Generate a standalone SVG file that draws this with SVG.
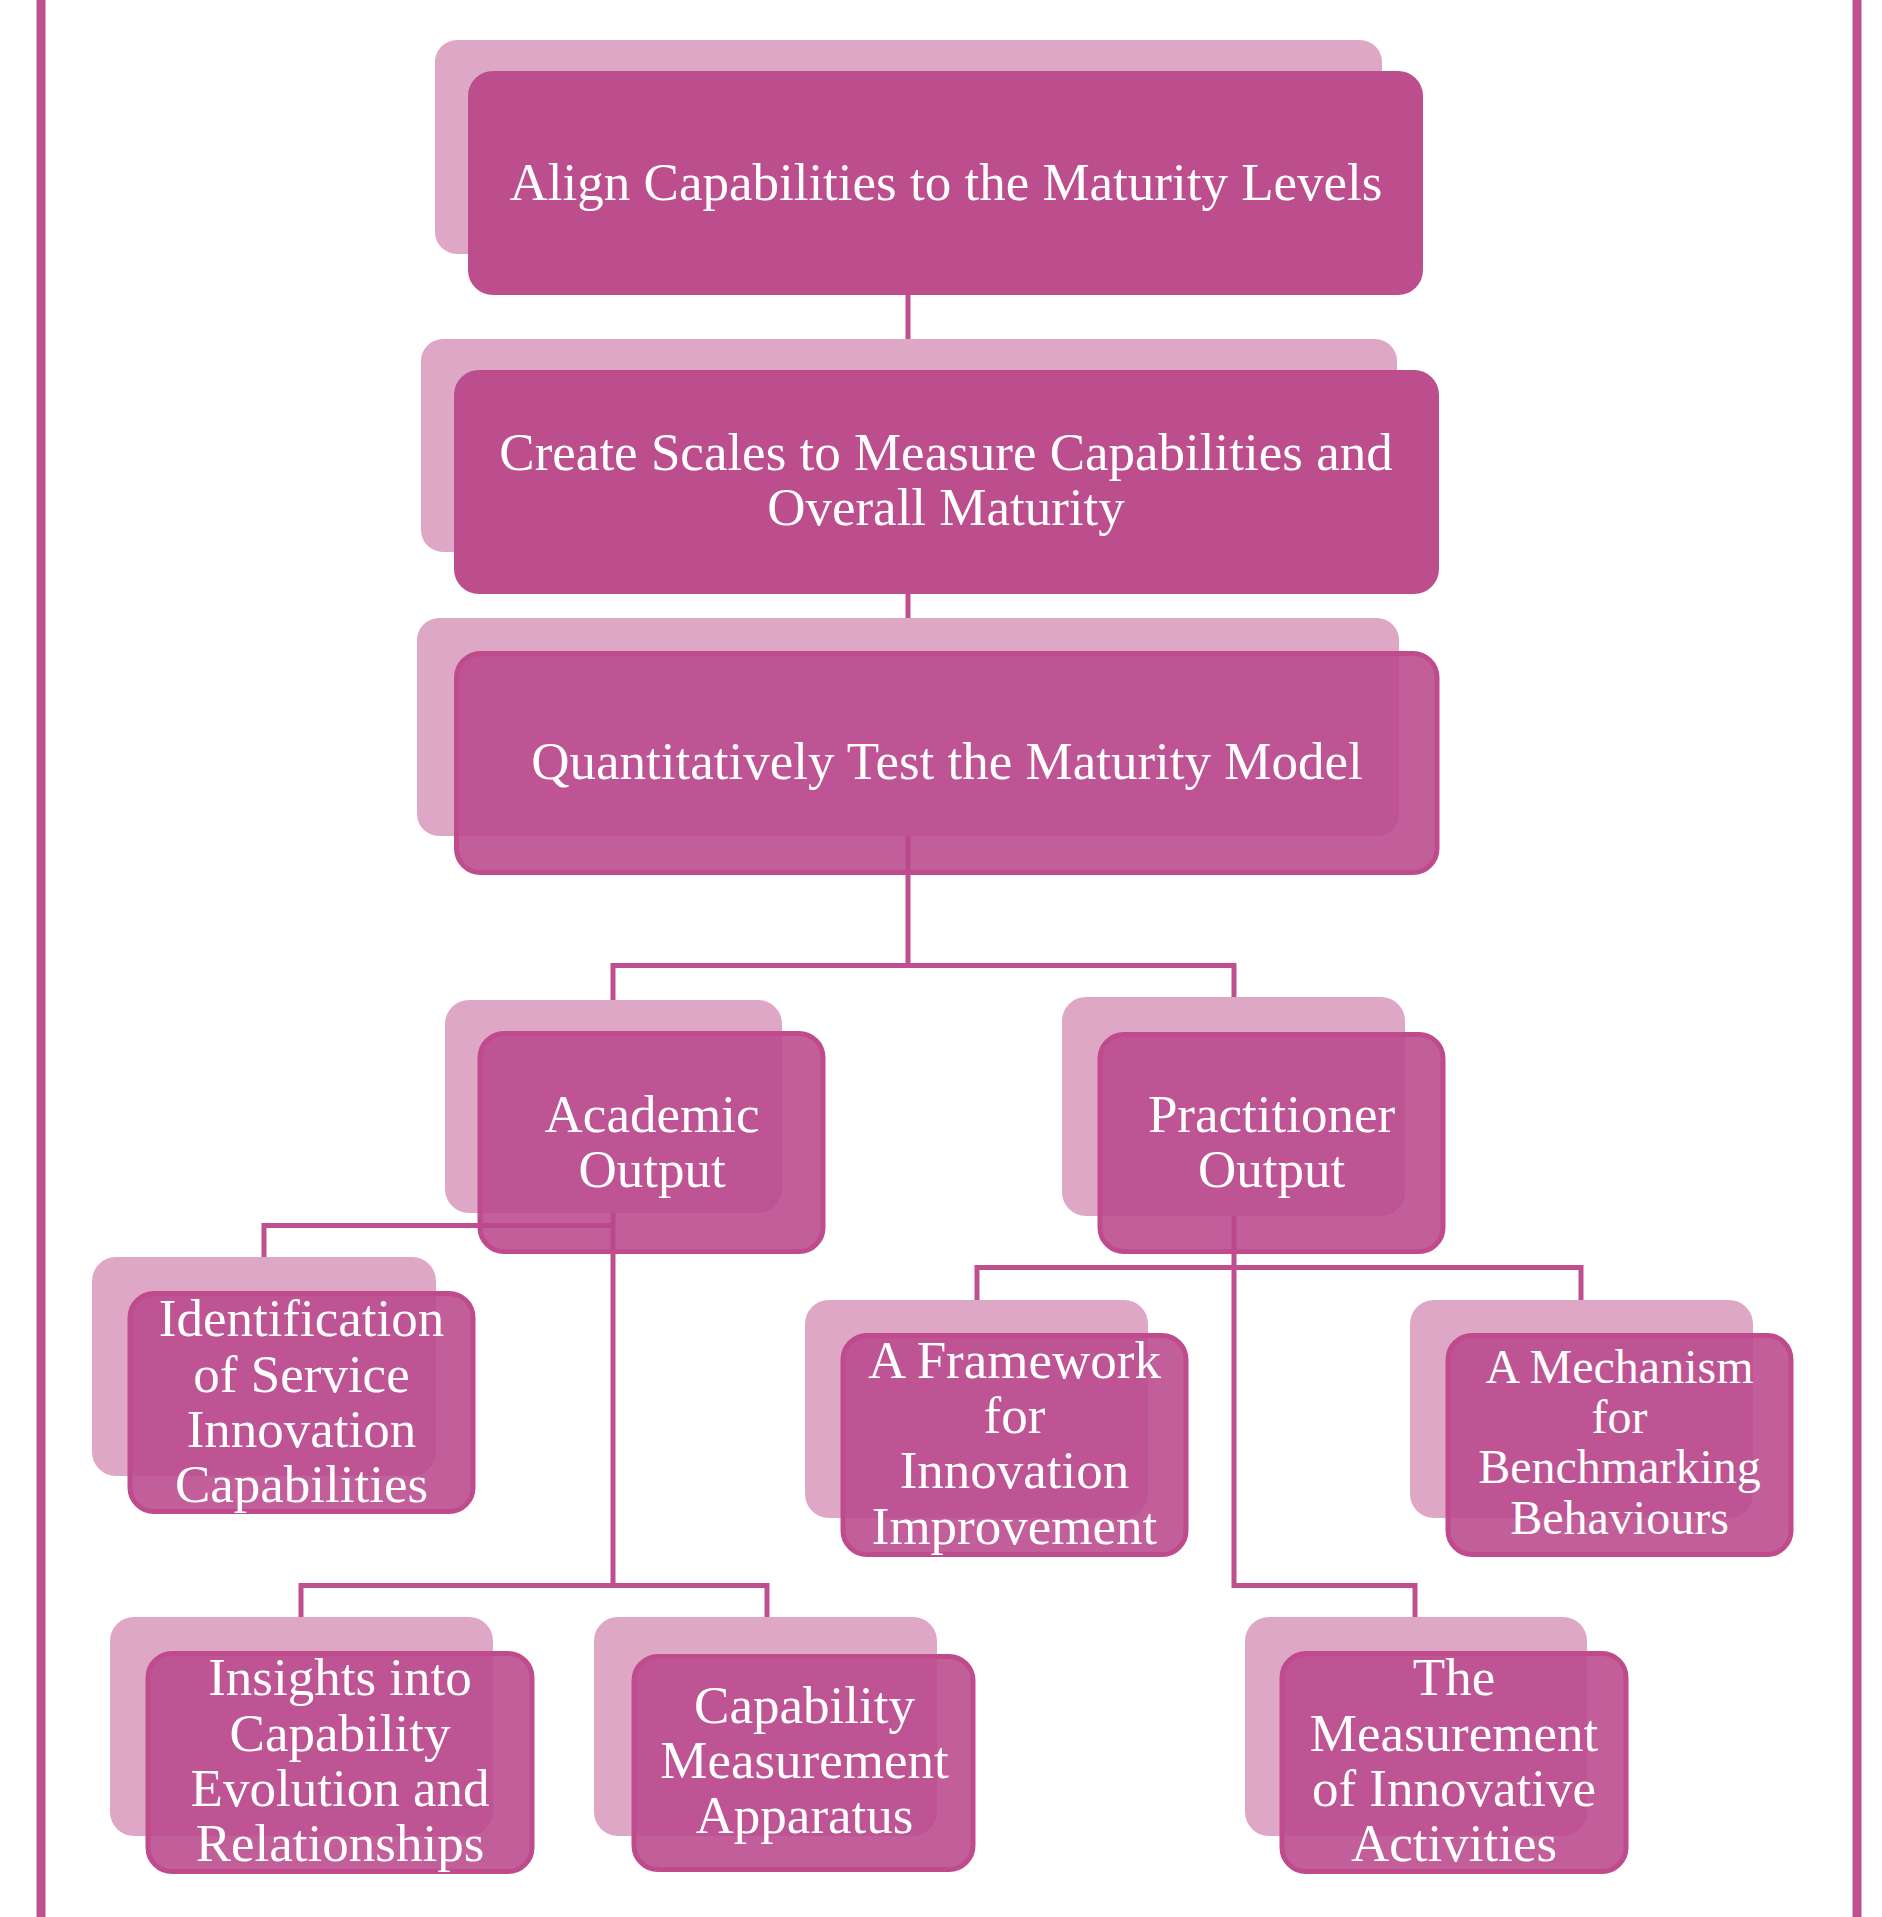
<svg xmlns="http://www.w3.org/2000/svg" width="1882" height="1917" viewBox="0 0 1882 1917">
<style>
.bk{fill:#DEA7C6}
.fo{fill:#BD4E8E;stroke:#BD4E8E;stroke-width:2}
.ft{fill:#B9498C;fill-opacity:0.88;stroke:#BF4B8C;stroke-width:5}
.ln{fill:none;stroke:#BF4F8E;stroke-width:5;stroke-linejoin:miter;stroke-linecap:butt}
.bd{stroke:#BF4F8E;stroke-width:9}
text{font-family:"Liberation Serif","Times New Roman",serif;font-size:53px;fill:#FFFFFF;text-anchor:middle}
.sm{font-size:48px}
</style>
<rect x="0" y="0" width="1882" height="1917" fill="#FFFFFF"/>
<g id="frame">
<line class="bd" x1="41" y1="0" x2="41" y2="1917"/>
<line class="bd" x1="1857" y1="0" x2="1857" y2="1917"/>
</g>
<g id="connectors">
<line class="ln" x1="908" y1="280" x2="908" y2="345"/>
<line class="ln" x1="908" y1="580" x2="908" y2="625"/>
<line class="ln" x1="908" y1="820" x2="908" y2="968"/>
<polyline class="ln" points="613,1003 613,965.5 1234,965.5 1234,1000"/>
<line class="ln" x1="613" y1="1200" x2="613" y2="1588"/>
<polyline class="ln" points="264,1260 264,1225.5 615,1225.5"/>
<polyline class="ln" points="301,1620 301,1585.5 767,1585.5 767,1620"/>
<polyline class="ln" points="1234,1200 1234,1585.5 1415,1585.5 1415,1620"/>
<polyline class="ln" points="977,1303 977,1267.5 1581,1267.5 1581,1303"/>
</g>
<g id="node-align">
<rect class="bk" x="435" y="40" width="947" height="214" rx="22"/>
<rect class="fo" x="469" y="72" width="953" height="222" rx="24"/>
<text x="946" y="200">Align Capabilities to the Maturity Levels</text>
</g>
<g id="node-create">
<rect class="bk" x="421" y="339" width="976" height="213" rx="22"/>
<rect class="fo" x="455" y="371" width="983" height="222" rx="24"/>
<text x="946" y="470">Create Scales to Measure Capabilities and</text>
<text x="946" y="525">Overall Maturity</text>
</g>
<g id="node-quant">
<rect class="bk" x="417" y="618" width="982" height="218" rx="22"/>
<rect class="ft" x="456.5" y="653.5" width="980.5" height="219" rx="24"/>
<text x="947" y="779">Quantitatively Test the Maturity Model</text>
</g>
<g id="node-academic">
<rect class="bk" x="445" y="1000" width="337" height="213" rx="24"/>
<rect class="ft" x="480" y="1033.5" width="343" height="218" rx="24"/>
<text x="652" y="1132">Academic</text>
<text x="652" y="1187">Output</text>
</g>
<g id="node-practitioner">
<rect class="bk" x="1062" y="997" width="343" height="219" rx="24"/>
<rect class="ft" x="1100" y="1034.5" width="343" height="217" rx="24"/>
<text x="1271.5" y="1132">Practitioner</text>
<text x="1271.5" y="1187">Output</text>
</g>
<g id="node-identification">
<rect class="bk" x="92" y="1257" width="344" height="219" rx="24"/>
<rect class="ft" x="130" y="1293.5" width="343" height="218" rx="24"/>
<text x="301.5" y="1336">Identification</text>
<text x="301.5" y="1392">of Service</text>
<text x="301.5" y="1447">Innovation</text>
<text x="301.5" y="1502">Capabilities</text>
</g>
<g id="node-framework">
<rect class="bk" x="805" y="1300" width="343" height="218" rx="24"/>
<rect class="ft" x="843" y="1335.5" width="343" height="219" rx="24"/>
<text x="1014.5" y="1378">A Framework</text>
<text x="1014.5" y="1433">for</text>
<text x="1014.5" y="1488">Innovation</text>
<text x="1014.5" y="1544">Improvement</text>
</g>
<g id="node-mechanism">
<rect class="bk" x="1410" y="1300" width="343" height="218" rx="24"/>
<rect class="ft" x="1448" y="1335.5" width="343" height="219" rx="24"/>
<text class="sm" x="1619.5" y="1383">A Mechanism</text>
<text class="sm" x="1619.5" y="1433">for</text>
<text class="sm" x="1619.5" y="1483">Benchmarking</text>
<text class="sm" x="1619.5" y="1534">Behaviours</text>
</g>
<g id="node-insights">
<rect class="bk" x="110" y="1617" width="383" height="219" rx="24"/>
<rect class="ft" x="148" y="1653.5" width="384" height="218" rx="24"/>
<text x="340" y="1695">Insights into</text>
<text x="340" y="1751">Capability</text>
<text x="340" y="1806">Evolution and</text>
<text x="340" y="1861">Relationships</text>
</g>
<g id="node-apparatus">
<rect class="bk" x="594" y="1617" width="343" height="219" rx="24"/>
<rect class="ft" x="634" y="1656.5" width="339" height="213" rx="24"/>
<text x="804.5" y="1723">Capability</text>
<text x="804.5" y="1778">Measurement</text>
<text x="804.5" y="1833">Apparatus</text>
</g>
<g id="node-measurement">
<rect class="bk" x="1245" y="1617" width="342" height="219" rx="24"/>
<rect class="ft" x="1282" y="1653.5" width="344" height="218" rx="24"/>
<text x="1454" y="1695">The</text>
<text x="1454" y="1751">Measurement</text>
<text x="1454" y="1806">of Innovative</text>
<text x="1454" y="1861">Activities</text>
</g>
</svg>
